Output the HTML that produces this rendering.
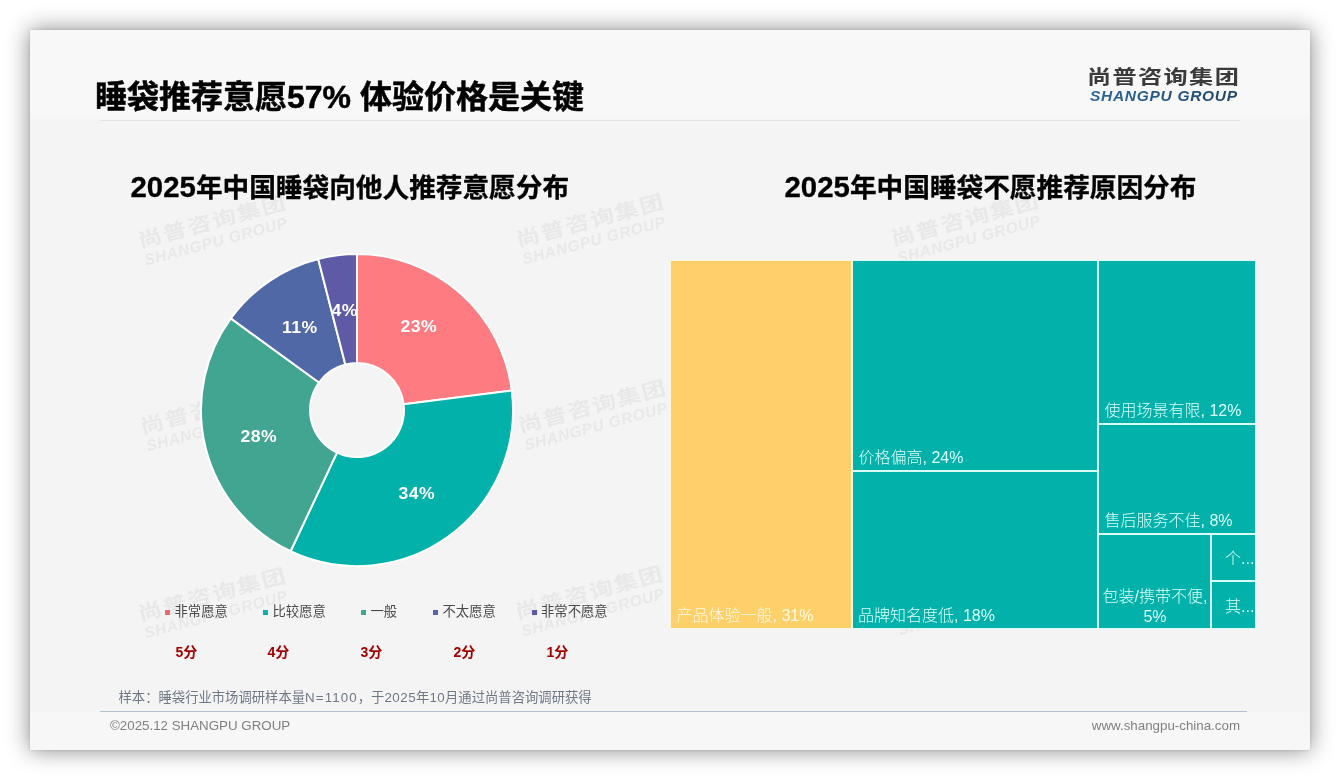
<!DOCTYPE html>
<html lang="zh-CN">
<head>
<meta charset="utf-8">
<title>睡袋推荐意愿57% 体验价格是关键</title>
<style>
  html, body { margin: 0; padding: 0; }
  body {
    width: 1340px; height: 780px; overflow: hidden; background: #ffffff;
    font-family: "Liberation Sans", "Noto Sans CJK SC", sans-serif;
    position: relative;
  }
  .slide {
    position: absolute; left: 30px; top: 30px; width: 1280px; height: 720px;
    background: #f4f4f4; overflow: hidden;
    box-shadow: 0 0 22px rgba(0,0,0,0.47), 0 0 3px rgba(0,0,0,0.12);
  }
  .abs { position: absolute; white-space: nowrap; }
  .header-bg { position: absolute; left: 0; top: 0; width: 1280px; height: 92px; background: linear-gradient(180deg, #f8f8f8 0, #f8f8f8 84px, #f4f4f4 92px); }
  .footer-bg { position: absolute; left: 0; top: 682px; width: 1280px; height: 38px; background: #f7f7f7; }
  .title {
    left: 65px; top: 46.8px; font-size: 32px; font-weight: 700; color: #000; line-height: 40px; -webkit-text-stroke: 0.5px #000;
    letter-spacing: 0;
  }
  .hline { position: absolute; left: 70px; top: 90px; width: 1140px; height: 1px; background: #e2e2e2; }
  .fline { position: absolute; left: 70px; top: 681px; width: 1147px; height: 1px; background: #b2c1d1; }
  .ctitle { font-size: 26.67px; font-weight: 700; color: #000; line-height: 32px; -webkit-text-stroke: 0.3px #000; }
  .logo-cn { font-size: 21px; font-weight: 700; color: #3b3b3b; letter-spacing: 1.2px; line-height: 24px; transform: scale(1.15, 0.935); transform-origin: 0 50%; }
  .logo-en { font-size: 15.5px; font-weight: 700; font-style: italic; color: #24517c; letter-spacing: 0.7px; line-height: 16px; padding-right: 3px; background: linear-gradient(90deg, #2c6598 0%, #1e4567 100%); -webkit-background-clip: text; background-clip: text; -webkit-text-fill-color: transparent; }
  .wm { position: absolute; width: 150px; height: 40px; transform: rotate(-15deg); transform-origin: 50% 50%; color: #e8e8e8; }
  .wm .c { font-size: 21px; font-weight: 700; letter-spacing: 1.2px; line-height: 24px; white-space: nowrap; transform: scale(1.15, 0.935); transform-origin: 0 50%; }
  .wm .e { font-size: 15.5px; font-weight: 700; font-style: italic; letter-spacing: 0.7px; line-height: 16px; white-space: nowrap; padding-left: 1px; }
  .lg { font-size: 13.33px; color: #4a4a4a; line-height: 16px; }
  .lg i { display: inline-block; width: 5px; height: 5.5px; margin-right: 4.5px; vertical-align: 1px; }
  .sc { font-size: 14px; font-weight: 700; color: #a00000; line-height: 16px; }
  .note { font-size: 13.33px; color: #6f7885; line-height: 16px; }
  .foot { font-size: 13.33px; color: #808080; line-height: 16px; }
  .tm { position: absolute; background: #02b1a9; }
  .tl { font-size: 16px; color: #dbfffa; line-height: 20px; font-weight: 300; }
  .ty { color: #fff9e3; }
  .dg { font-size: 29.4px; letter-spacing: 0; line-height: 0; }
</style>
</head>
<body>
<div class="slide">
  <div class="header-bg"></div>
  <div class="footer-bg"></div>

  <!-- watermarks -->
  <div class="wm" style="left:108.0px;top:180.0px;"><div class="c">尚普咨询集团</div><div class="e">SHANGPU GROUP</div></div>
  <div class="wm" style="left:485.8px;top:179.2px;"><div class="c">尚普咨询集团</div><div class="e">SHANGPU GROUP</div></div>
  <div class="wm" style="left:860.6px;top:177.7px;"><div class="c">尚普咨询集团</div><div class="e">SHANGPU GROUP</div></div>
  <div class="wm" style="left:110.0px;top:366.0px;"><div class="c">尚普咨询集团</div><div class="e">SHANGPU GROUP</div></div>
  <div class="wm" style="left:488.0px;top:365.0px;"><div class="c">尚普咨询集团</div><div class="e">SHANGPU GROUP</div></div>
  <div class="wm" style="left:108.0px;top:552.5px;"><div class="c">尚普咨询集团</div><div class="e">SHANGPU GROUP</div></div>
  <div class="wm" style="left:485.0px;top:551.0px;"><div class="c">尚普咨询集团</div><div class="e">SHANGPU GROUP</div></div>
  <div class="wm" style="left:862.0px;top:550.0px;"><div class="c">尚普咨询集团</div><div class="e">SHANGPU GROUP</div></div>

  <div class="abs title">睡袋推荐意愿57% 体验价格是关键</div>
  <div class="hline"></div>

  <div class="abs logo-cn" style="left:1056.5px;top:34.6px;">尚普咨询集团</div>
  <div class="abs logo-en" style="left:1060px;top:58.2px;">SHANGPU GROUP</div>

  <div class="abs ctitle" style="left:100.5px;top:141.5px;"><span class="dg">2025</span>年中国睡袋向他人推荐意愿分布</div>
  <div class="abs ctitle" style="left:754.5px;top:141.5px;"><span class="dg">2025</span>年中国睡袋不愿推荐原因分布</div>

  <!-- donut chart -->
  <svg class="abs" style="left:0;top:0;" width="1280" height="720" viewBox="0 0 1280 720">
    <g stroke="#ffffff" stroke-width="2" stroke-linejoin="round">
      <path d="M327.00 224.10A156 156 0 0 1 481.77 360.55L373.63 374.21A47 47 0 0 0 327.00 333.10Z" fill="#fe7c81"/>
      <path d="M481.77 360.55A156 156 0 0 1 260.58 521.25L306.99 422.63A47 47 0 0 0 373.63 374.21Z" fill="#02b1a9"/>
      <path d="M260.58 521.25A156 156 0 0 1 200.79 288.41L288.98 352.47A47 47 0 0 0 306.99 422.63Z" fill="#42a592"/>
      <path d="M200.79 288.41A156 156 0 0 1 288.20 229.00L315.31 334.58A47 47 0 0 0 288.98 352.47Z" fill="#5068a5"/>
      <path d="M288.20 229.00A156 156 0 0 1 327.00 224.10L327.00 333.10A47 47 0 0 0 315.31 334.58Z" fill="#5e5aa6"/>
    </g>
    <g fill="#ffffff" font-family="'Liberation Sans', sans-serif" font-weight="700" font-size="16" letter-spacing="0.4" text-anchor="middle">
      <text transform="translate(388.7 302.0) scale(1.1 1)">23%</text>
      <text transform="translate(386.8 468.7) scale(1.1 1)">34%</text>
      <text transform="translate(228.7 412.2) scale(1.1 1)">28%</text>
      <text transform="translate(269.8 302.7) scale(1.1 1)">11%</text>
      <text transform="translate(314.7 286.3) scale(1.1 1)">4%</text>
    </g>
  </svg>

  <!-- legend -->
  <div class="abs lg" style="left:135px;top:574.3px;"><i style="background:#ec6a74"></i>非常愿意</div>
  <div class="abs lg" style="left:233px;top:574.3px;"><i style="background:#02b1a9"></i>比较愿意</div>
  <div class="abs lg" style="left:331px;top:574.3px;"><i style="background:#42a592"></i>一般</div>
  <div class="abs lg" style="left:403px;top:574.3px;"><i style="background:#5068a5"></i>不太愿意</div>
  <div class="abs lg" style="left:501.5px;top:574.3px;"><i style="background:#5e5aa6"></i>非常不愿意</div>

  <div class="abs sc" style="left:145.5px;top:614.3px;">5分</div>
  <div class="abs sc" style="left:237.5px;top:614.3px;">4分</div>
  <div class="abs sc" style="left:330.5px;top:614.3px;">3分</div>
  <div class="abs sc" style="left:423.5px;top:614.3px;">2分</div>
  <div class="abs sc" style="left:516.5px;top:614.3px;">1分</div>

  <div class="abs note" style="left:88.5px;top:660px;">样本：睡袋行业市场调研样本量<span style="letter-spacing:1.1px">N=1100</span>，于<span style="letter-spacing:0.5px">2025</span>年<span style="letter-spacing:0.4px">10</span>月通过尚普咨询调研获得</div>
  <div class="fline"></div>
  <div class="abs foot" style="left:80px;top:688px;">©2025.12 SHANGPU GROUP</div>
  <div class="abs foot" style="right:70px;top:688px;">www.shangpu-china.com</div>

  <!-- treemap -->
  <div class="tm" style="left:640px;top:230px;width:586px;height:369px;background:#d9fcf9;"></div>
  <div class="tm" style="left:640px;top:230px;width:182px;height:369px;background:#fbf6e2;"></div>
  <div class="tm" style="left:641px;top:231px;width:180px;height:367px;background:#fed069;"></div>
  <div class="tm" style="left:821px;top:231px;width:2px;height:367px;background:#fff8e6;"></div>
  <div class="tm" style="left:823px;top:231px;width:244px;height:209px;"></div>
  <div class="tm" style="left:823px;top:442px;width:244px;height:156px;"></div>
  <div class="tm" style="left:1069px;top:231px;width:156px;height:162px;"></div>
  <div class="tm" style="left:1069px;top:395px;width:156px;height:108px;"></div>
  <div class="tm" style="left:1069px;top:505px;width:111px;height:93px;"></div>
  <div class="tm" style="left:1182px;top:505px;width:43px;height:45px;"></div>
  <div class="tm" style="left:1182px;top:552px;width:43px;height:46px;"></div>

  <div class="abs tl ty" style="left:646.5px;top:576px;">产品体验一般, 31%</div>
  <div class="abs tl" style="left:828.5px;top:418px;">价格偏高, 24%</div>
  <div class="abs tl" style="left:828px;top:576px;">品牌知名度低, 18%</div>
  <div class="abs tl" style="left:1074.5px;top:371px;">使用场景有限, 12%</div>
  <div class="abs tl" style="left:1074.5px;top:481px;">售后服务不佳, 8%</div>
  <div class="abs tl" style="left:1069.5px;top:557.3px;width:111px;text-align:center;line-height:20px;">包装/携带不便,<br>5%</div>
  <div class="abs tl" style="left:1195px;top:518.5px;width:30px;overflow:hidden;">个...</div>
  <div class="abs tl" style="left:1195px;top:566.5px;width:30px;overflow:hidden;">其...</div>
</div>
</body>
</html>
